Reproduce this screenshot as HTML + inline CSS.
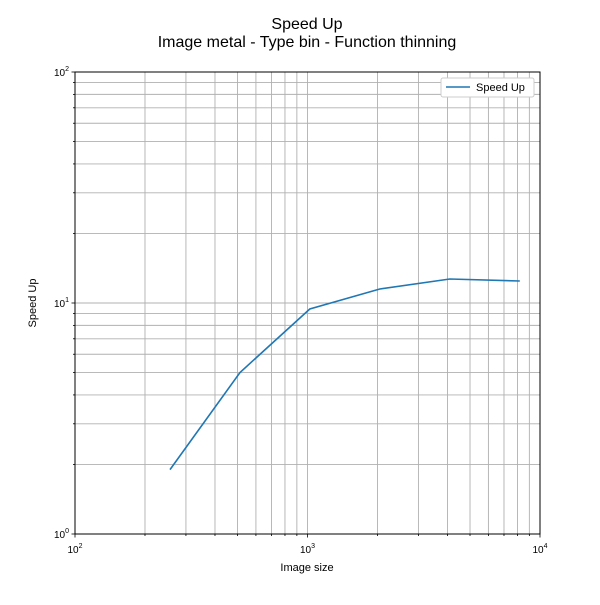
<!DOCTYPE html>
<html><head><meta charset="utf-8"><style>
body{margin:0;background:#fff;}
svg text{font-family:"Liberation Sans","DejaVu Sans",sans-serif;fill:#000;}
</style></head><body>
<svg id="s" width="600" height="600" xmlns="http://www.w3.org/2000/svg">
<rect width="600" height="600" fill="#fff"/>
<text x="307" y="29" font-size="16" text-anchor="middle">Speed Up</text>
<text x="307" y="47" font-size="16" text-anchor="middle">Image metal - Type bin - Function thinning</text>
<g id="grid" stroke="#b0b0b0" stroke-width="0.9"></g>
<polyline fill="none" stroke="#1f77b4" stroke-width="1.6" points="170,469.6 240,372.5 309.8,309 379.8,289 449.8,279 519.8,281"/>
<rect x="75" y="72" width="465" height="462" fill="none" stroke="#000" stroke-width="1"/>
<g id="ticks" stroke="#000" stroke-width="0.8"></g>
<g id="labels" font-size="10"></g>
<text x="307" y="571" font-size="11" text-anchor="middle">Image size</text>
<text transform="translate(36,303) rotate(-90)" font-size="11" text-anchor="middle">Speed Up</text>
<rect x="441" y="78" width="93" height="19" fill="#fff" stroke="#ccc" rx="2"/>
<line x1="446" y1="87" x2="470" y2="87" stroke="#1f77b4" stroke-width="1.6"/>
<text x="476" y="91" font-size="11">Speed Up</text>
</svg>
<script>
var NS="http://www.w3.org/2000/svg";
function el(p,t,a){var e=document.createElementNS(NS,t);for(var k in a)e.setAttribute(k,a[k]);(typeof p=="string"?document.getElementById(p):p).appendChild(e);return e;}
var x0=75,x1=540,y0=534,y1=72;
for(var d=0;d<2;d++)for(var k=1;k<=9;k++){
 var l=d+Math.log10(k);
 var x=x0+l/2*(x1-x0), y=y0-l/2*(y0-y1);
 if(!(d==0&&k==1)){el("grid","line",{x1:x,y1:y1,x2:x,y2:y0});el("grid","line",{x1:x0,y1:y,x2:x1,y2:y});}
 var len=k==1?3.5:2;
 el("ticks","line",{x1:x,y1:y0,x2:x,y2:y0+len});
 el("ticks","line",{x1:x0,y1:y,x2:x0-len,y2:y});
}
el("ticks","line",{x1:x1,y1:y0,x2:x1,y2:y0+3.5});
el("ticks","line",{x1:x0,y1:y1,x2:x0-3.5,y2:y1});
function lab(x,y,anchor,e){
 var t=el("labels","text",{x:x,y:y,"text-anchor":anchor});
 t.appendChild(document.createTextNode("10"));
 var s=el(t,"tspan",{dy:-5,"font-size":"7"});s.textContent=e;
}
for(var i=0;i<3;i++){
 var x=x0+i/2*(x1-x0);
 lab(x,553,"middle",String(i+2));
 var y=y0-i/2*(y0-y1);
 lab(x0-6,y+4,"end",String(i));
}
</script>
</body></html>
